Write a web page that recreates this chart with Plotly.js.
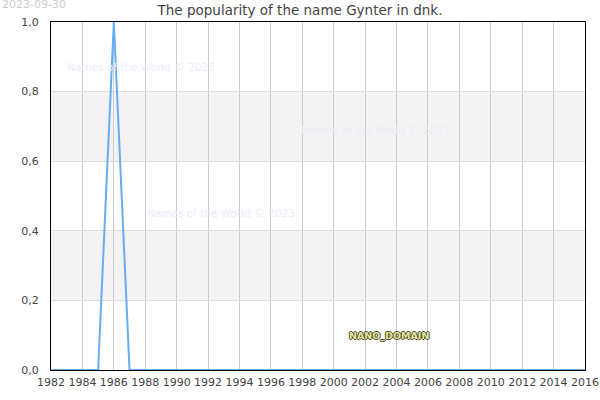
<!DOCTYPE html>
<html>
<head>
<meta charset="utf-8">
<script src="https://cdn.plot.ly/plotly-3.0.1.min.js"></script>
<style>
  html, body { margin: 0; padding: 0; background: #fff; }
  #chart { width: 600px; height: 400px; }
</style>
</head>
<body>
<div id="chart"></div>
<script>
// yearly popularity of the name (relative, 0..1)
var years = [1982, 1983, 1984, 1985, 1986, 1987, 1988, 1989, 1990, 1991, 1992, 1993,
             1994, 1995, 1996, 1997, 1998, 1999, 2000, 2001, 2002, 2003, 2004, 2005,
             2006, 2007, 2008, 2009, 2010, 2011, 2012, 2013, 2014, 2015, 2016];
var popularity = [0, 0, 0, 0, 1, 0, 0, 0, 0, 0, 0, 0,
                  0, 0, 0, 0, 0, 0, 0, 0, 0, 0, 0, 0,
                  0, 0, 0, 0, 0, 0, 0, 0, 0, 0, 0];
var bands = [[0.2, 0.4], [0.6, 0.8]];
var watermarks = [[1987.7, 0.87], [2002.6, 0.69], [1992.8, 0.45]];

var trace = {
  x: years,
  y: popularity,
  type: 'scatter',
  mode: 'lines',
  line: { color: '#66adf3', width: 2 },
  hoverinfo: 'x+y'
};

var shapes = bands.map(function (b) {
  return {
    type: 'rect', xref: 'paper', yref: 'y', x0: 0, x1: 1, y0: b[0], y1: b[1],
    fillcolor: '#f3f3f3', line: { width: 0 }, layer: 'below'
  };
});

var annotations = watermarks.map(function (w) {
  return {
    x: w[0], y: w[1], xref: 'x', yref: 'y', text: 'Names of the World © 2023',
    showarrow: false, font: { family: 'DejaVu Sans', size: 10.5, color: '#ececfb' }
  };
});
annotations.push({
  x: 2003.5, y: 0.098, xref: 'x', yref: 'y', text: '<b>NANO_DOMAIN</b>', showarrow: false,
  font: { family: 'DejaVu Sans', size: 9.5, color: '#e4e4a4',
          shadow: '1px 0 0 #4d4d22, -1px 0 0 #4d4d22, 0 1px 0 #4d4d22, 0 -1px 0 #4d4d22' }
});
annotations.push({
  x: 0, y: 1, xref: 'paper', yref: 'paper', xanchor: 'left', yanchor: 'top',
  xshift: -51, yshift: 26, text: '2023-09-30', showarrow: false,
  font: { family: 'DejaVu Sans', size: 11, color: '#cccccc' }
});

var layout = {
  width: 600,
  height: 400,
  margin: { l: 51, r: 15, t: 22, b: 30 },
  paper_bgcolor: '#fff',
  plot_bgcolor: 'rgba(0,0,0,0)',
  separators: ', ',
  showlegend: false,
  font: { family: 'DejaVu Sans', size: 11, color: '#444' },
  title: {
    text: 'The popularity of the name Gynter in dnk.',
    font: { family: 'DejaVu Sans', size: 13.5, color: '#444' },
    x: 0.5, xanchor: 'center', y: 0.975, yanchor: 'middle'
  },
  xaxis: {
    range: [1982, 2016],
    tickvals: years.filter(function (y) { return y % 2 === 0; }),
    showgrid: true, gridcolor: '#cccccc', gridwidth: 1,
    showline: true, linecolor: '#000', linewidth: 1, mirror: true,
    zeroline: false, ticks: '', ticklabelstandoff: 2, fixedrange: true
  },
  yaxis: {
    range: [0, 1],
    tickvals: [0, 0.2, 0.4, 0.6, 0.8, 1],
    tickformat: '.1f',
    showgrid: true, gridcolor: '#dddddd', gridwidth: 1,
    showline: true, linecolor: '#000', linewidth: 1, mirror: true,
    zeroline: false, ticks: '', ticklabelstandoff: 9, fixedrange: true
  },
  shapes: shapes,
  annotations: annotations
};

Plotly.newPlot('chart', [trace], layout, { displayModeBar: false, staticPlot: true });
</script>
</body>
</html>
